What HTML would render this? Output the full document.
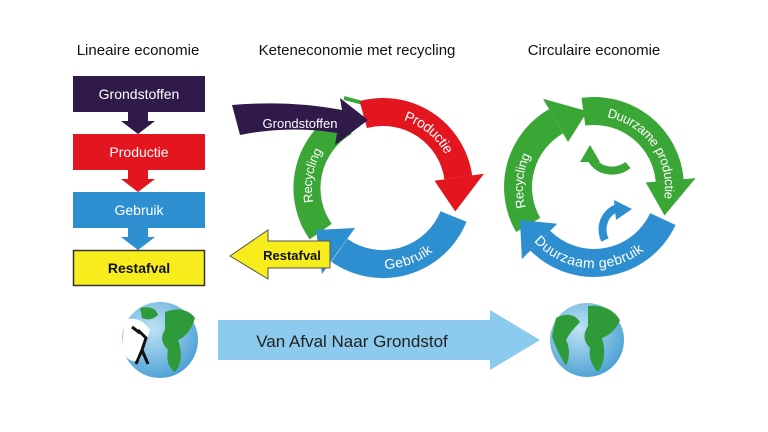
<!DOCTYPE html>
<html><head><meta charset="utf-8"><style>
html,body{margin:0;padding:0;background:#fff;}
svg{display:block;font-family:"Liberation Sans",sans-serif;}
</style></head><body>
<svg width="768" height="432" viewBox="0 0 768 432" xmlns="http://www.w3.org/2000/svg">
<defs>
<path id="mProd" d="M369.8,113.2 A76,76 0 0 1 457.8,174.8"/>
<path id="mGeb" d="M345,253.8 A76,76 0 0 0 448.8,226"/>
<path id="mRec" d="M320.7,231.6 A76,76 0 0 1 339.4,125.7"/>
<path id="rRec" d="M535.8,235.9 A76,76 0 0 1 545.1,128.8"/>
<path id="rProd" d="M587.4,111.3 A76,76 0 0 1 662.9,219.1"/>
<path id="rGeb" d="M525.1,219.1 A76,76 0 0 0 656.3,230.6"/>
<radialGradient id="sea" cx="40%" cy="35%" r="70%"><stop offset="0" stop-color="#bfe3f5"/><stop offset="1" stop-color="#4a9fd4"/></radialGradient>
</defs>

<!-- headings -->
<g font-size="15" fill="#111" text-anchor="middle">
<text x="138" y="55">Lineaire economie</text>
<text x="357" y="55">Keteneconomie met recycling</text>
<text x="594" y="55">Circulaire economie</text>
</g>

<!-- linear column -->
<rect x="73" y="76" width="132" height="36" fill="#2f1a4a"/>
<polygon points="128,112 148,112 148,121 155,121 138,134 121,121 128,121" fill="#2f1a4a"/>
<rect x="73" y="134" width="132" height="36" fill="#e3161f"/>
<polygon points="128,170 148,170 148,179 155,179 138,192 121,179 128,179" fill="#e3161f"/>
<rect x="73" y="192" width="132" height="36" fill="#2e8fd0"/>
<polygon points="128,228 148,228 148,237 155,237 138,250 121,237 128,237" fill="#2e8fd0"/>
<rect x="73.5" y="250.5" width="131" height="35" fill="#f7ec1c" stroke="#333" stroke-width="1.5"/>
<g font-size="14" text-anchor="middle">
<text x="139" y="99" fill="#fff">Grondstoffen</text>
<text x="139" y="157" fill="#fff">Productie</text>
<text x="139" y="215" fill="#fff">Gebruik</text>
<text x="139" y="273" fill="#111" font-weight="bold">Restafval</text>
</g>

<!-- middle cycle -->
<path d="M320.7,231.6 A76,76 0 0 1 345,122.2" fill="none" stroke="#3aa635" stroke-width="27"/>
<polyline points="344,98 378,107 358,122" fill="none" stroke="#3aa635" stroke-width="4"/>
<path d="M363.3,114.6 A76,76 0 0 1 458.3,177.4" fill="none" stroke="#e3161f" stroke-width="28"/>
<polygon points="434.5,180.8 484,173.8 455.3,211.5" fill="#e3161f"/>
<path d="M453.5,216.5 A76,76 0 0 1 339.4,250.3" fill="none" stroke="#2e8fd0" stroke-width="28"/>
<polygon points="355,228 322,274 316,230" fill="#2e8fd0"/>
<path d="M232,105 Q290,100 342,110 L340,98 L368,120 L335,145 L337,133 Q290,125 240,135 Z" fill="#2f1a4a"/>
<text x="300" y="128" font-size="13" fill="#fff" text-anchor="middle">Grondstoffen</text>
<polygon points="330,241 268,241 268,230 230,256 268,279 268,268 330,268" fill="#f7ec1c" stroke="#555" stroke-width="1"/>
<text x="292" y="260" font-size="13" font-weight="bold" fill="#111" text-anchor="middle">Restafval</text>
<g font-size="14" fill="#fff">
<text dy="5"><textPath href="#mProd" startOffset="55%" text-anchor="middle">Productie</textPath></text>
<text dy="5"><textPath href="#mGeb" startOffset="55%" text-anchor="middle">Gebruik</textPath></text>
<text dy="5" font-size="13"><textPath href="#mRec" startOffset="50%" text-anchor="middle">Recycling</textPath></text>
</g>

<!-- right cycle -->
<path d="M528.2,225 A76,76 0 0 1 556,121.2" fill="none" stroke="#3aa635" stroke-width="28"/>
<polygon points="568,142 543,98.7 587.4,111.3" fill="#3aa635"/>
<path d="M583.4,111.7 A76,76 0 0 1 669.7,180.4" fill="none" stroke="#3aa635" stroke-width="28"/>
<polygon points="645.8,182.5 695.6,178.1 664.5,215.5" fill="#3aa635"/>
<path d="M662.9,219.1 A76,76 0 0 1 540.3,240.7" fill="none" stroke="#2e8fd0" stroke-width="28"/>
<polygon points="557.2,223.8 521.9,259.1 520,220" fill="#2e8fd0"/>
<!-- inner small arrows -->
<path d="M628,165 A22,18 0 0 1 592,160" fill="none" stroke="#3aa635" stroke-width="8"/>
<polygon points="580,162 600,162 590,145" fill="#3aa635"/>
<path d="M605,240 A20,22 0 0 1 618,208" fill="none" stroke="#2e8fd0" stroke-width="8"/>
<polygon points="614,200 616,220 632,209" fill="#2e8fd0"/>
<g font-size="13" fill="#fff">
<text dy="5"><textPath href="#rRec" startOffset="50%" text-anchor="middle">Recycling</textPath></text>
<text dy="5"><textPath href="#rProd" startOffset="50%" text-anchor="middle">Duurzame productie</textPath></text>
<text dy="5" font-size="14"><textPath href="#rGeb" startOffset="50%" text-anchor="middle">Duurzaam gebruik</textPath></text>
</g>

<!-- bottom -->
<circle cx="160" cy="340" r="38" fill="url(#sea)"/>
<path d="M165,312 Q185,305 195,318 Q190,335 178,340 Q185,360 175,372 Q165,365 168,350 Q158,340 165,330 Z" fill="#2f9a3a"/>
<path d="M140,308 Q155,305 158,315 Q150,322 142,318 Z" fill="#2f9a3a"/>
<path d="M125,320 Q140,315 150,330 Q145,345 140,360 Q125,365 122,345 Z" fill="#fff"/>
<path d="M138,330 l8,8 l-4,12 l6,14 M142,350 l-6,14 M140,333 l-8,-6" stroke="#111" stroke-width="3" fill="none"/>
<polygon points="218,320 490,320 490,310 540,340 490,370 490,360 218,360" fill="#8ccbed"/>
<text x="352" y="347" font-size="17" fill="#222" text-anchor="middle">Van Afval Naar Grondstof</text>
<circle cx="587" cy="340" r="37" fill="url(#sea)"/>
<path d="M588,306 Q610,304 620,320 Q615,333 602,338 Q608,358 598,372 Q588,362 590,348 Q580,338 588,326 Z" fill="#2f9a3a"/>
<path d="M556,318 Q572,310 580,322 Q570,332 566,340 Q572,352 566,366 Q556,350 552,336 Z" fill="#2f9a3a"/>
</svg>
</body></html>
